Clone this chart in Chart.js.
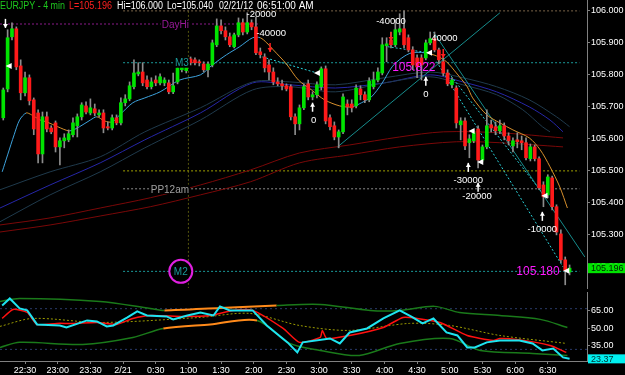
<!DOCTYPE html>
<html>
<head>
<meta charset="utf-8">
<script src="https://cdn.jsdelivr.net/npm/chart.js@4.4.0/dist/chart.umd.min.js"></script>
<style>
  body { margin: 0; background: #000; }
  #wrap { position: relative; width: 625px; height: 375px; background: #000; overflow: hidden; }
  #priceChart { position: absolute; left: 0; top: 0; }
  #rsiChart { position: absolute; left: 0; top: 290px; }
</style>
</head>
<body>
<div id="wrap">
  <canvas id="priceChart" width="625" height="290"></canvas>
  <canvas id="rsiChart" width="625" height="85"></canvas>
</div>
<script>
// EURJPY 4 min bars, first bar 22:08, last bar 6:48
const firstBar = '22:08';
const open = [105.666,105.756,105.919,105.944,105.828,105.744,105.791,105.722,105.681,105.553,
  105.669,105.634,105.650,105.575,105.594,105.597,105.613,105.641,105.669,105.703,
  105.681,105.694,105.675,105.681,105.638,105.634,105.666,105.650,105.713,105.725,
  105.763,105.803,105.809,105.784,105.763,105.784,105.775,105.775,105.775,105.747,
  105.778,105.816,105.813,105.850,105.847,105.841,105.834,105.816,105.831,105.894,
  105.953,105.938,105.919,105.888,105.925,105.963,105.934,105.963,105.950,105.872,
  105.856,105.831,105.809,105.778,105.772,105.766,105.763,105.669,105.647,105.697,
  105.772,105.731,105.738,105.763,105.819,105.666,105.641,105.606,105.622,105.709,
  105.709,105.703,105.756,105.738,105.722,105.763,105.784,105.806,105.891,105.909,
  105.894,105.934,105.944,105.916,105.878,105.853,105.853,105.853,105.900,105.913,
  105.878,105.841,105.806,105.769,105.759,105.644,105.656,105.588,105.594,105.631,
  105.534,105.575,105.644,105.638,105.625,105.641,105.609,105.578,105.597,105.594,
  105.588,105.538,105.575,105.538,105.456,105.425,105.478,105.388,105.303,105.222,
  105.184];
const high = [105.759,105.941,105.963,105.950,105.847,105.809,105.800,105.728,105.691,105.684,
  105.684,105.641,105.656,105.603,105.616,105.628,105.666,105.678,105.713,105.716,
  105.725,105.709,105.691,105.691,105.653,105.675,105.675,105.728,105.738,105.778,
  105.847,105.838,105.838,105.797,105.791,105.797,105.803,105.791,105.784,105.806,
  105.828,105.841,105.847,105.856,105.853,105.847,105.841,105.841,105.909,105.975,
  105.972,105.950,105.931,105.931,105.978,105.975,105.994,105.972,105.981,105.884,
  105.866,105.847,105.822,105.791,105.784,105.772,105.769,105.678,105.706,105.772,
  105.784,105.747,105.778,105.825,105.828,105.675,105.653,105.628,105.741,105.722,
  105.722,105.769,105.766,105.747,105.791,105.809,105.822,105.916,105.916,105.934,
  105.972,105.991,106.000,105.925,105.888,105.863,105.863,105.909,105.934,105.934,
  105.884,105.856,105.816,105.791,105.766,105.666,105.666,105.613,105.628,105.641,
  105.581,105.691,105.659,105.653,105.659,105.650,105.619,105.603,105.619,105.609,
  105.603,105.584,105.581,105.544,105.466,105.488,105.484,105.394,105.316,105.231,
  105.206];
const low = [105.659,105.747,105.909,105.816,105.722,105.734,105.706,105.613,105.525,105.525,
  105.622,105.616,105.559,105.519,105.572,105.591,105.606,105.606,105.659,105.678,
  105.675,105.672,105.669,105.619,105.628,105.628,105.644,105.644,105.703,105.719,
  105.756,105.797,105.766,105.756,105.756,105.766,105.769,105.766,105.741,105.741,
  105.772,105.809,105.806,105.831,105.831,105.828,105.809,105.794,105.825,105.888,
  105.928,105.909,105.888,105.884,105.919,105.925,105.928,105.941,105.863,105.853,
  105.809,105.784,105.769,105.766,105.753,105.750,105.659,105.613,105.628,105.691,
  105.722,105.722,105.728,105.753,105.647,105.628,105.597,105.572,105.616,105.675,
  105.684,105.697,105.722,105.713,105.716,105.756,105.778,105.800,105.841,105.884,
  105.888,105.925,105.884,105.872,105.816,105.791,105.784,105.847,105.894,105.872,
  105.834,105.797,105.766,105.759,105.634,105.597,105.566,105.541,105.588,105.509,
  105.528,105.569,105.622,105.613,105.616,105.597,105.581,105.559,105.572,105.566,
  105.534,105.531,105.531,105.441,105.388,105.416,105.378,105.300,105.213,105.144,
  105.175];
const close = [105.753,105.916,105.944,105.825,105.744,105.791,105.719,105.631,105.553,105.669,
  105.631,105.622,105.575,105.594,105.603,105.616,105.650,105.669,105.706,105.684,
  105.697,105.681,105.681,105.634,105.634,105.666,105.650,105.713,105.725,105.766,
  105.806,105.809,105.775,105.763,105.778,105.775,105.794,105.784,105.747,105.766,
  105.822,105.828,105.838,105.838,105.838,105.838,105.816,105.834,105.900,105.953,
  105.938,105.919,105.894,105.925,105.963,105.934,105.963,105.950,105.869,105.863,
  105.822,105.809,105.778,105.772,105.766,105.756,105.669,105.647,105.697,105.763,
  105.731,105.738,105.769,105.819,105.656,105.638,105.606,105.622,105.731,105.700,
  105.697,105.759,105.738,105.722,105.781,105.784,105.809,105.894,105.897,105.894,
  105.941,105.944,105.894,105.878,105.831,105.825,105.831,105.900,105.913,105.878,
  105.847,105.806,105.772,105.784,105.650,105.656,105.578,105.600,105.619,105.534,
  105.575,105.641,105.634,105.625,105.641,105.609,105.594,105.594,105.591,105.588,
  105.541,105.575,105.538,105.447,105.419,105.481,105.388,105.309,105.222,105.188,
  105.196];

// overlays on the price pane, [time, price]
const maLine = [['22:09',105.497],['22:14',105.550],['22:20',105.613],['22:25',105.659],['22:31',105.681],
  ['22:36',105.675],['22:44',105.659],['22:50',105.653],['23:00',105.638],['23:11',105.625],['23:20',105.638],
  ['23:30',105.659],['23:36',105.669],['23:43',105.656],['23:50',105.653],['23:57',105.675],['0:09',105.713],
  ['0:20',105.728],['0:34',105.747],['0:52',105.784],['1:11',105.800],['1:22',105.831],['1:35',105.863],
  ['1:47',105.888],['1:59',105.916],['2:06',105.916],['2:12',105.900],['2:18',105.878],['2:30',105.834],
  ['2:41',105.784],['2:53',105.753],['3:05',105.722],['3:19',105.703],['3:30',105.700],['3:39',105.713],
  ['3:48',105.731],['3:58',105.775],['4:07',105.825],['4:16',105.853],['4:25',105.869],['4:37',105.869],
  ['4:48',105.859],['4:57',105.841],['5:06',105.806],['5:16',105.763],['5:21',105.728],['5:34',105.675],
  ['5:46',105.650],['5:58',105.628],['6:13',105.603],['6:23',105.566],['6:32',105.513],['6:41',105.450],
  ['6:48',105.384]];
const bandTop = [['22:07',105.441],['22:53',105.497],['23:39',105.544],['0:20',105.622],['1:11',105.697],
  ['1:59',105.778],['2:33',105.778],['3:15',105.769],['4:00',105.791],['4:42',105.809],['5:12',105.791],
  ['5:43',105.763],['6:13',105.722],['6:38',105.669],['6:50',105.638]];
const bandMid = [['22:07',105.384],['22:53',105.456],['23:39',105.525],['0:20',105.597],['1:11',105.681],
  ['1:59',105.775],['2:33',105.769],['3:15',105.759],['4:00',105.775],['4:42',105.800],['5:12',105.778],
  ['5:43',105.747],['6:13',105.700],['6:32',105.659],['6:44',105.622]];
const bandLow = [['22:07',105.341],['22:53',105.425],['23:39',105.497],['0:20',105.572],['1:11',105.659],
  ['1:59',105.753],['2:33',105.763],['3:15',105.747],['4:00',105.775],['4:42',105.794],['5:12',105.769],
  ['5:43',105.738],['6:07',105.691],['6:25',105.638],['6:32',105.622]];
const redUpper = [['22:07',105.331],['22:53',105.353],['23:39',105.384],['0:25',105.416],['1:11',105.456],
  ['1:57',105.503],['2:42',105.556],['3:28',105.581],['4:14',105.606],['4:54',105.622],['5:46',105.619],['6:44',105.603]];
const redLower = [['22:07',105.309],['22:53',105.331],['23:39',105.359],['0:25',105.388],['1:11',105.425],
  ['1:57',105.466],['2:42',105.525],['3:28',105.550],['4:14',105.575],['5:06',105.591],['5:46',105.588],['6:44',105.575]];

// horizontal levels from midnight: [name, price, color]
const levels = [['Hi', 106.000, '#7a6448'], ['M3', 105.838, '#1a9a9a'], ['R', 105.500, '#a0a000'],
  ['PP12am', 105.444, '#8c8c8c'], ['M2', 105.186, '#1a9a9a']];
const dayHi = [['22:07', 105.959], ['2:05', 105.959]];
const trendLines = [[['3:17', 105.575], ['5:46', 105.994]], [['4:45', 105.934], ['7:04', 105.231]]];
const orderLines = [[['2:08', 105.856], ['2:58', 105.806]], [['4:03', 105.888], ['4:41', 105.869]],
  [['4:48', 105.841], ['6:44', 105.200]], [['4:59', 105.806], ['6:25', 105.431]]];

// text marks: [text, time, price]
const orderLabels = [['-20000','2:07',105.988],['-40000','2:16',105.931],['-40000','4:06',105.966],
  ['40000','4:55',105.913],['0','2:55',105.659],['0','4:38',105.738],['-30000','5:17',105.469],
  ['-20000','5:25',105.419],['-10000','6:25',105.316]];
const priceTags = [['105.822','4:27',105.822],['105.180','6:21',105.186]];
const levelTags = [['DayHi','0:48',105.959,'#9a1a9a'],['M3','0:54',105.838,'#1a9a9a'],
  ['PP12am','0:43',105.444,'#a0a0a0'],['M2','0:53',105.186,'#1a9a9a']];
const upArrows = [['2:54',105.713],['4:38',105.794],['5:17',105.525],['5:26',105.463],['6:25',105.372]];
const downArrows = [['22:12',105.975,'#ffffff'],['2:15',105.900,'#ff2020'],['4:06',105.934,'#ff2020'],['4:54',105.881,'#ff2020']];
const fillMarks = [['22:15',105.828],['2:58',105.806],['4:41',105.869],['5:20',105.625],['5:28',105.528],['6:27',105.422],['6:47',105.188]];

// RSI pane, [time, value]
const rsiLine = [['22:09',69.8],['22:16',75.9],['22:25',67.2],['22:32',65.5],['22:41',53.3],['23:02',52.4],
  ['23:08',50.7],['23:27',56.8],['23:36',55.9],['23:45',51.6],['23:51',52.4],['0:04',59.4],['0:13',64.6],
  ['0:22',61.1],['0:40',60.3],['0:46',57.7],['0:59',61.1],['1:11',63.7],['1:23',61.1],['1:29',69.0],
  ['1:38',65.5],['1:59',65.5],['2:12',52.4],['2:31',37.7],['2:40',29.0],['2:45',37.7],['3:10',41.1],
  ['3:19',36.8],['3:28',46.3],['3:44',49.8],['3:59',58.5],['4:14',65.5],['4:26',59.4],['4:35',54.2],
  ['4:45',58.5],['4:57',46.3],['5:07',43.7],['5:16',33.3],['5:23',33.3],['5:34',37.7],['5:46',39.4],
  ['6:04',39.4],['6:16',36.8],['6:25',30.7],['6:35',32.4],['6:44',24.6],['6:50',23.37]];
const rsiSignal = [['22:09',58.5],['22:19',66.3],['22:32',63.7],['22:41',53.3],['22:59',54.2],['23:14',54.2],
  ['23:36',55.0],['23:54',53.3],['0:09',58.5],['0:25',61.1],['0:55',60.3],['1:20',61.1],['1:41',65.5],
  ['1:59',65.5],['2:27',49.8],['2:42',37.7],['3:01',42.0],['3:03',48.1],['3:07',41.1],['3:28',43.7],
  ['3:59',50.7],['4:17',59.4],['4:30',58.5],['4:51',55.0],['5:16',43.7],['5:40',39.4],['5:46',41.1],
  ['6:01',40.3],['6:32',35.0],['6:47',29.0]];
const rsiUpper = [['22:07',73.3],['22:25',75.9],['23:39',73.3],['0:25',67.2],['0:38',65.5],['1:29',67.6],
  ['2:21',69.8],['3:01',70.7],['3:47',65.5],['4:14',65.5],['4:46',69.0],['5:09',63.7],['5:46',61.1],
  ['6:23',57.7],['6:48',50.7]];
const rsiLower = [['22:07',33.3],['22:25',37.7],['23:23',35.9],['0:09',42.0],['0:37',49.8],['1:20',53.3],
  ['2:03',56.8],['2:33',36.8],['3:01',30.7],['3:37',26.3],['4:14',36.8],['5:00',41.1],['5:28',30.7],
  ['6:16',28.1],['6:48',26.3]];
const rsiMid = [['22:07',51.6],['22:37',58.5],['23:39',55.0],['1:11',59.4],['1:56',62.9],['2:42',52.4],
  ['3:28',48.1],['4:23',54.2],['5:00',52.4],['5:46',43.7],['6:47',36.8]];
const rsiLevels = [67, 31.6];
// stretch where the bands are drawn hot (orange)
const hotFrom = '0:37', hotTo = '2:21';

const priceTicks = [105.2, 105.3, 105.4, 105.5, 105.6, 105.7, 105.8, 105.9, 106.0];
const rsiTicks = [35, 50, 65];
const timeLabels = ['22:30','23:00','23:30','2/21','0:30','1:00','1:30','2:00','2:30','3:00',
  '3:30','4:00','4:30','5:00','5:30','6:00','6:30'];
const titleParts = [['EURJPY - 4 min', '#1ec81e'], ['L=105.196', '#ff2020'], ['Hi=106.000', '#ffffff'],
  ['Lo=105.040', '#ffffff'], ['02/21/12', '#ffffff'], ['06:51:00 AM', '#ffffff']];

// minutes after 22:00
function toMin(s) {
  const [h, m] = s.split(':').map(Number);
  return (h >= 22 ? h - 22 : h + 2) * 60 + m;
}
const pts = arr => arr.map(([t, v]) => ({ x: toMin(t), y: v }));

const X_MIN = 7, X_MAX = 546;
const UP = '#00e400', DOWN = '#ff1a1a';

Chart.defaults.font.family = 'Arial, "Liberation Sans", sans-serif';
Chart.defaults.font.size = 9;
Chart.defaults.color = '#ffffff';
Chart.defaults.animation = false;

// no extra room for first/last tick labels, keep the plot flush with the pane
const noPad = s => { s.paddingTop = 0; s.paddingBottom = 0; s.paddingLeft = 0; s.paddingRight = 0; };

function lineDs(data, color, width, extra) {
  return Object.assign({
    type: 'line', data: data, borderColor: color, borderWidth: width,
    pointRadius: 0, fill: false, tension: 0.3, order: 3
  }, extra || {});
}

const barX = open.map((_, k) => toMin(firstBar) + 4 * k + 2);
const isUp = k => close[k] >= open[k];

const priceSets = [];
levels.forEach(([, p, c]) => {
  priceSets.push(lineDs([{ x: toMin('0:00'), y: p }, { x: toMin('6:59'), y: p }], c, 1, { borderDash: [2, 2], tension: 0, order: 6 }));
});
priceSets.push(lineDs(pts(dayHi), '#8a1a8a', 1, { borderDash: [2, 2], tension: 0, order: 6 }));
priceSets.push(lineDs([{ x: toMin('1:00'), y: 106.0 }, { x: toMin('1:00'), y: 105.13 }], '#55550e', 1, { borderDash: [2, 2], tension: 0, order: 6 }));
priceSets.push(lineDs(pts(redUpper), '#7a0808', 1, { order: 5 }));
priceSets.push(lineDs(pts(redLower), '#7a0808', 1, { order: 5 }));
priceSets.push(lineDs(pts(bandTop), '#1f3a4c', 1, { order: 5 }));
priceSets.push(lineDs(pts(bandLow), '#1f3a4c', 1, { order: 5 }));
priceSets.push(lineDs(pts(bandMid), '#2626a8', 1, { order: 5 }));
trendLines.forEach(l => priceSets.push(lineDs(pts(l), '#168c8c', 1, { tension: 0, order: 4 })));
orderLines.forEach(l => priceSets.push(lineDs(pts(l), '#2ad0d8', 1, { tension: 0, borderDash: [2, 2], order: 4 })));
priceSets.push(lineDs(pts(maLine), '#3da2dc', 1, {
  order: 2,
  segment: { borderColor: c => c.p1.parsed.y < c.p0.parsed.y ? '#d8902c' : '#3da2dc' }
}));
priceSets.push({
  type: 'bar', order: 1, grouped: false, barThickness: 1,
  data: barX.map((x, k) => ({ x: x, y: [low[k], high[k]] })),
  backgroundColor: '#8c8c8c', borderWidth: 0
});
priceSets.push({
  type: 'bar', order: 0, grouped: false, barThickness: 3, minBarLength: 1,
  data: barX.map((x, k) => ({ x: x, y: [open[k], close[k]] })),
  backgroundColor: barX.map((_, k) => isUp(k) ? UP : DOWN), borderWidth: 0
});

function arrow(ctx, x, y, dir, color) {
  // y is the top end of the arrow
  const len = 9;
  ctx.strokeStyle = color; ctx.fillStyle = color; ctx.lineWidth = 1.5;
  ctx.beginPath(); ctx.moveTo(x, y); ctx.lineTo(x, y + len); ctx.stroke();
  const tip = dir > 0 ? y : y + len;
  ctx.beginPath();
  ctx.moveTo(x, tip);
  ctx.lineTo(x - 2.5, tip + 4 * dir);
  ctx.lineTo(x + 2.5, tip + 4 * dir);
  ctx.closePath(); ctx.fill();
}

const priceOverlay = {
  id: 'priceOverlay',
  afterDatasetsDraw(chart) {
    const { ctx } = chart;
    const xs = chart.scales.x, ys = chart.scales.y;
    const px = t => xs.getPixelForValue(toMin(t));
    const py = p => ys.getPixelForValue(p);
    ctx.save();
    ctx.textAlign = 'center';
    ctx.textBaseline = 'middle';

    levelTags.forEach(([txt, t, p, c]) => {
      const x = px(t), y = py(p);
      ctx.font = '10px Arial';
      const w = ctx.measureText(txt).width;
      ctx.fillStyle = '#000';
      if (txt === 'M2') {
        ctx.beginPath(); ctx.arc(x, y, 11.5, 0, Math.PI * 2); ctx.fill();
        ctx.strokeStyle = '#e020e0'; ctx.lineWidth = 2; ctx.stroke();
      } else {
        ctx.fillRect(x - w / 2 - 1, y - 4, w + 2, 9);
      }
      ctx.fillStyle = c;
      ctx.fillText(txt, x, y + 1);
    });

    ctx.font = '9.5px Arial';
    ctx.fillStyle = '#ffffff';
    orderLabels.forEach(([txt, t, p]) => ctx.fillText(txt, px(t), py(p)));

    ctx.font = '12px Arial';
    ctx.fillStyle = '#ff1aff';
    priceTags.forEach(([txt, t, p]) => ctx.fillText(txt, px(t), py(p)));

    upArrows.forEach(([t, p]) => arrow(ctx, px(t), py(p), 1, '#ffffff'));
    downArrows.forEach(([t, p, c]) => arrow(ctx, px(t), py(p), -1, c));

    ctx.fillStyle = '#ffffff';
    fillMarks.forEach(([t, p]) => {
      const x = px(t), y = py(p);
      ctx.beginPath(); ctx.moveTo(x - 3, y); ctx.lineTo(x + 3, y - 3); ctx.lineTo(x + 3, y + 3); ctx.closePath(); ctx.fill();
    });

    // current price box
    const last = close[close.length - 1];
    const yl = py(last);
    ctx.fillStyle = '#00e400';
    ctx.fillRect(ys.left + 1, yl - 5, chart.width - ys.left - 1, 10);
    ctx.fillStyle = '#002000';
    ctx.font = '9px Arial';
    ctx.textAlign = 'left';
    ctx.fillText(last.toFixed(3), ys.left + 4, yl + 0.5);

    // title line
    const tx = [0, 69, 117, 167, 219, 257], tw = [65, 43, 46, 46, 34, 60];
    ctx.font = '10px Arial';
    titleParts.forEach(([txt, c], i) => {
      ctx.fillStyle = c;
      ctx.fillText(txt, tx[i], 6, tw[i]);
    });
    ctx.restore();
  }
};

new Chart(document.getElementById('priceChart'), {
  type: 'bar',
  data: { datasets: priceSets },
  plugins: [priceOverlay],
  options: {
    responsive: false,
    layout: { padding: { left: 0, right: 0, top: 0, bottom: 2 } },
    plugins: { legend: { display: false }, tooltip: { enabled: false } },
    scales: {
      x: { type: 'linear', min: X_MIN, max: X_MAX, offset: false, display: false, grid: { offset: false } },
      y: {
        position: 'right', min: 105.134, max: 106.034, beginAtZero: false,
        afterFit: s => { s.width = 38; noPad(s); },
        afterBuildTicks: s => { s.ticks = priceTicks.map(v => ({ value: v })); },
        ticks: { callback: v => v.toFixed(3), color: '#ffffff', padding: 1, font: { size: 9 } },
        grid: { drawOnChartArea: false, color: '#808080', tickLength: 3 },
        border: { display: true, color: '#808080' }
      }
    }
  }
});

const inHot = c => c.p0.parsed.x >= toMin(hotFrom) && c.p1.parsed.x <= toMin(hotTo);
const rsiSets = [];
rsiLevels.forEach(v => rsiSets.push(lineDs([{ x: X_MIN, y: v }, { x: X_MAX, y: v }], '#2a3a6a', 1, { borderDash: [2, 3], tension: 0, order: 6 })));
[rsiUpper, rsiLower].forEach(band => rsiSets.push(lineDs(pts(band), '#1a7a1a', 1.5, {
  order: 5,
  segment: {
    borderColor: c => inHot(c) ? '#ff8a1a' : '#1a7a1a',
    borderWidth: c => inHot(c) ? 2 : 1.5
  }
})));
rsiSets.push(lineDs(pts(rsiMid), '#9a9a00', 1, { borderDash: [2, 2], order: 4 }));
rsiSets.push(lineDs(pts(rsiSignal), '#ff1010', 1.5, { tension: 0.2, order: 2 }));
rsiSets.push(lineDs(pts(rsiLine), '#1ee4f0', 2, { tension: 0, order: 1 }));

const rsiOverlay = {
  id: 'rsiOverlay',
  afterDatasetsDraw(chart) {
    const { ctx } = chart;
    const ys = chart.scales.y;
    const last = rsiLine[rsiLine.length - 1][1];
    const y = ys.getPixelForValue(last);
    ctx.save();
    ctx.fillStyle = '#00f0f0';
    ctx.fillRect(ys.left + 1, y - 4.5, chart.width - ys.left - 1, 9);
    ctx.fillStyle = '#003030';
    ctx.font = '9px Arial';
    ctx.textBaseline = 'middle';
    ctx.fillText(last.toFixed(2), ys.left + 4, y + 0.5);
    ctx.restore();
  }
};

new Chart(document.getElementById('rsiChart'), {
  type: 'line',
  data: { datasets: rsiSets },
  plugins: [rsiOverlay],
  options: {
    responsive: false,
    layout: { padding: { left: 0, right: 0, top: 2, bottom: 0 } },
    plugins: { legend: { display: false }, tooltip: { enabled: false } },
    scales: {
      x: {
        type: 'linear', min: X_MIN, max: X_MAX, offset: false,
        afterFit: s => { s.height = 14; noPad(s); },
        afterBuildTicks: s => { s.ticks = timeLabels.map((_, i) => ({ value: 30 * (i + 1) })); },
        ticks: { callback: (v, i) => timeLabels[i], color: '#ffffff', padding: 1, maxRotation: 0, autoSkip: false, font: { size: 9 } },
        grid: { drawOnChartArea: false, color: '#808080', tickLength: 3 },
        border: { display: true, color: '#808080' }
      },
      y: {
        position: 'right', min: 21.5, max: 81.5,
        afterFit: s => { s.width = 38; noPad(s); },
        afterBuildTicks: s => { s.ticks = rsiTicks.map(v => ({ value: v })); },
        ticks: { callback: v => v.toFixed(2), color: '#ffffff', padding: 1, font: { size: 9 } },
        grid: { drawOnChartArea: false, color: '#808080', tickLength: 3 },
        border: { display: true, color: '#808080' }
      }
    }
  }
});
</script>
</body>
</html>
